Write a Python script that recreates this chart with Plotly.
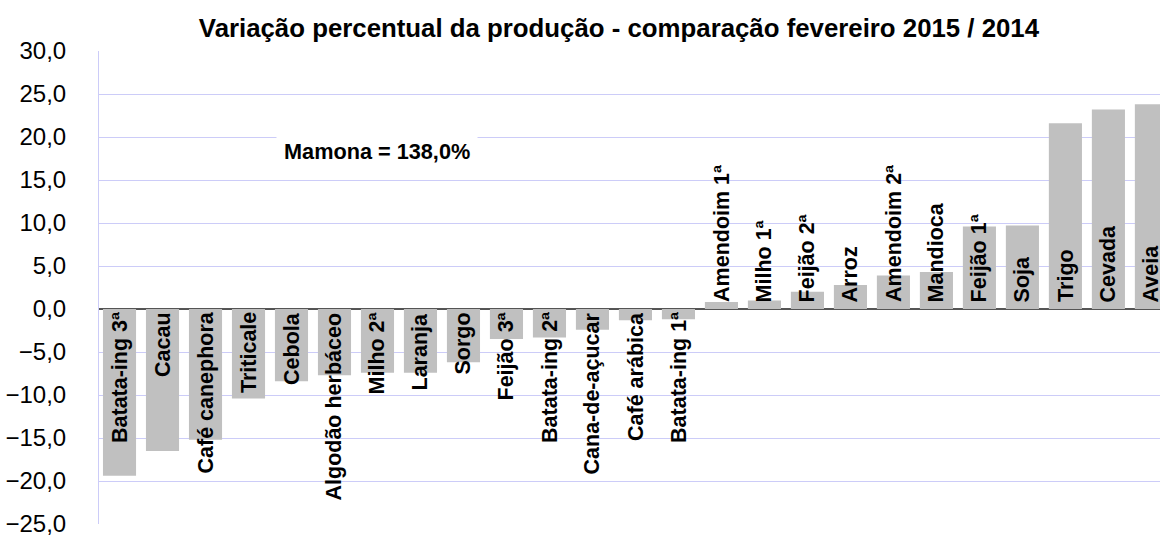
import plotly.graph_objects as go

categories = ["Batata-ing 3ª", "Cacau", "Café canephora", "Triticale", "Cebola",
              "Algodão herbáceo", "Milho 2ª", "Laranja", "Sorgo", "Feijão 3ª",
              "Batata-ing 2ª", "Cana-de-açucar", "Café arábica", "Batata-ing 1ª",
              "Amendoim 1ª", "Milho 1ª", "Feijão 2ª", "Arroz", "Amendoim 2ª",
              "Mandioca", "Feijão 1ª", "Soja", "Trigo", "Cevada", "Aveia"]
values = [-19.4, -16.5, -15.2, -10.4, -8.4, -7.7, -7.4, -7.4, -6.2, -3.5,
          -3.3, -2.4, -1.3, -1.2, 0.8, 1.0, 2.0, 2.8, 3.9, 4.3, 9.6, 9.7,
          21.6, 23.2, 23.8]
title_text = "Variação percentual da produção - comparação fevereiro 2015 / 2014"
note_text = "Mamona = 138,0%"
y_ticks = [-25, -20, -15, -10, -5, 0, 5, 10, 15, 20, 25, 30]

FONT = "Liberation Sans, Arial, sans-serif"
GRID = "#CCCCF8"

fig = go.Figure()
fig.add_trace(go.Bar(x=list(range(len(categories))), y=values,
                     marker=dict(color="#C0C0C0", line=dict(width=0)),
                     hoverinfo="skip"))

for i, (c, v) in enumerate(zip(categories, values)):
    if v < 0:
        fig.add_annotation(x=i, y=0, text=f"<b>{c}</b>", textangle=-90,
                           showarrow=False, xanchor="center", yanchor="top",
                           yshift=-1, font=dict(family=FONT, size=21.5, color="black"))
    else:
        fig.add_annotation(x=i, y=0, text=f"<b>{c}</b>", textangle=-90,
                           showarrow=False, xanchor="center", yanchor="bottom",
                           yshift=5, font=dict(family=FONT, size=21.5, color="black"))

fig.add_annotation(x=6.0, y=18.3, text=f"<b>{note_text}</b>", showarrow=False,
                   xanchor="center", yanchor="middle", bgcolor="white",
                   borderpad=7, font=dict(family=FONT, size=21.7, color="black"))

fig.update_layout(
    width=1160, height=536,
    margin=dict(l=99, r=0, t=51, b=12),
    paper_bgcolor="white", plot_bgcolor="white",
    separators=",.",
    bargap=0.23,
    showlegend=False,
    title=dict(text=f"<b>{title_text}</b>", x=0.5336, xanchor="center",
               y=0.948, yanchor="middle", automargin=False,
               font=dict(family=FONT, size=25.8, color="black")),
    xaxis=dict(range=[-0.477, 24.2], showticklabels=False, showgrid=False,
               zeroline=False, showline=False, ticks="", automargin=False),
    yaxis=dict(range=[-25, 30], tickvals=y_ticks, tickformat=".1f",
               showgrid=True, gridcolor=GRID, gridwidth=1,
               zeroline=True, zerolinecolor="#555555", zerolinewidth=2,
               showline=True, linecolor=GRID, linewidth=1,
               ticks="", ticklabelstandoff=27, automargin=False,
               ticklabeloverflow="allow",
               tickfont=dict(family=FONT, size=24, color="black")),
)

fig.write_html("out.html",
               config={"displayModeBar": False},
               post_script="document.body.style.margin='0';document.body.style.overflow='hidden';")
